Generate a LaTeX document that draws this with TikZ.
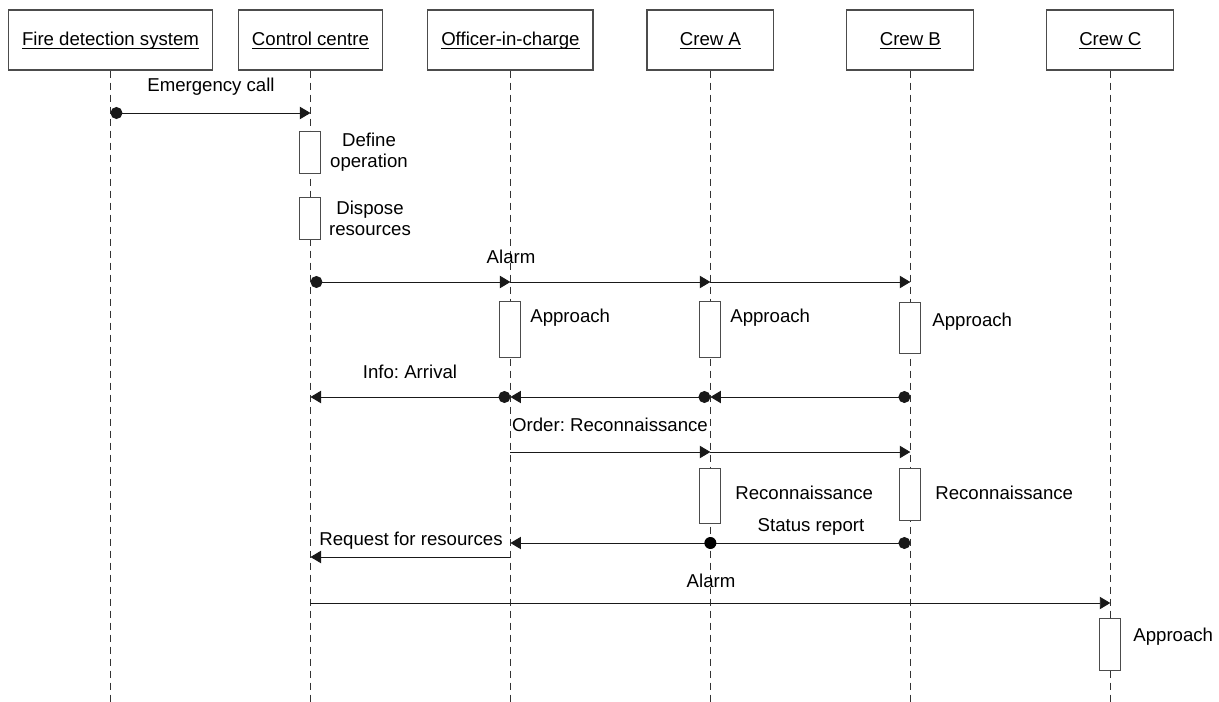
\documentclass[tikz,border=0pt]{standalone}
\usepackage{fontspec}
\setmainfont{Liberation Sans}
\usetikzlibrary{arrows.meta,positioning,calc}
\newcommand{\ulname}[1]{\underline{\smash{#1}}}
\frenchspacing

\begin{document}
\begin{tikzpicture}[x=0.02cm,y=-0.02cm,node distance=4cm,
			font=\fontsize{10.6}{12}\selectfont]
			\tikzstyle{obj}=[draw=black!70,line width=0.7pt,rectangle,minimum width=2.54cm,minimum height=1.2cm,inner xsep=0.27cm,text height=8pt,text depth=1.8pt]
			\tikzstyle{life}=[draw=black!80,line width=0.55pt,dash pattern=on 0.14cm off 0.1cm]
			\tikzstyle{actbox}=[draw=black!70,fill=white,line width=0.55pt,minimum width=0.42cm,inner sep=0pt]
			\tikzstyle{msg}=[draw=black!90,line width=0.55pt,-{Triangle[length=6pt,width=7pt]}]
			\tikzstyle{dmsg}=[msg,{Circle[length=6.8pt]}-{Triangle[length=6pt,width=7pt]}]
			\tikzstyle{mdot}=[circle,fill=black,inner sep=0pt,minimum size=0.24cm]
			\tikzstyle{lbl}=[inner sep=0pt]
			
			\useasboundingbox (0,0) rectangle (1219,702);
			
			\node[obj]    (FDS) at (110.5,40)      {\ulname{Fire detection system}};
			\node[obj]    (CC)  [right of = FDS]   {\ulname{Control centre}};
			\node[obj]    (OIC) [right of = CC]    {\ulname{Officer-in-charge}};
			\node[obj]    (CA)  [right of = OIC]   {\ulname{Crew A}};
			\node[obj]    (CB)  [right of = CA]    {\ulname{Crew B}};
			\node[obj]    (CCC) [right of = CB]    {\ulname{Crew C}};
			
			% time levels
			\coordinate (bot)     at (0,702);
			\coordinate (tcall)   at (0,113);
			\coordinate (talarm)  at (0,282);
			\coordinate (tarr)    at (0,397);
			\coordinate (tord)    at (0,452);
			\coordinate (tstat)   at (0,543);
			\coordinate (treq)    at (0,557);
			\coordinate (talarmc) at (0,603);
			
			\foreach \n in {FDS,CC,OIC,CA,CB,CCC}
				\draw[life] (\n.south) -- (\n |- bot);
			
			\node[actbox, minimum height=0.84cm] (defop)  at (CC |- 0,152)   {};
			\node[actbox, minimum height=0.84cm] (dispo)  at (CC |- 0,218)   {};
			\node[actbox, minimum height=1.12cm] (appO)   at (OIC |- 0,329)  {};
			\node[actbox, minimum height=1.12cm] (appA)   at (CA |- 0,329)   {};
			\node[actbox, minimum height=1.02cm] (appB)   at (CB |- 0,327.5) {};
			\node[actbox, minimum height=1.1cm]  (recA)   at (CA |- 0,495.5) {};
			\node[actbox, minimum height=1.04cm] (recB)   at (CB |- 0,494)   {};
			\node[actbox, minimum height=1.04cm] (appC)   at (CCC |- 0,644)  {};
			
			\path
			(FDS |- tcall) edge[dmsg] (CC |- tcall)
			(CC |- talarm) edge[dmsg] (OIC |- talarm)
			(OIC |- talarm) edge[msg] (CA |- talarm)
			(CA |- talarm) edge[msg] (CB |- talarm)
			(CB |- tarr) edge[dmsg] (CA |- tarr)
			(CA |- tarr) edge[dmsg] (OIC |- tarr)
			(OIC |- tarr) edge[dmsg] (CC |- tarr)
			(OIC |- tord) edge[msg] (CA |- tord)
			(CA |- tord) edge[msg] (CB |- tord)
			(CB |- tstat) edge[dmsg] (OIC |- tstat)
			(OIC |- treq) edge[msg] (CC |- treq)
			(CC |- talarmc) edge[msg] (CCC |- talarmc);
			\node[mdot] (sdot) at (CA |- tstat) {};
			
			\node[lbl] (lcall) at (211,87) {Emergency call};
			\node[lbl, align=center] (ldef) at (369,152) {Define\\operation};
			\node[lbl, align=center] (ldis) at (370,218) {Dispose\\resources};
			\node[lbl] (lalarm) at (511,257) {Alarm};
			\node[lbl, anchor=west] (lappO) at (530,318) {Approach};
			\node[lbl, anchor=west] (lappA) at (730,318) {Approach};
			\node[lbl, anchor=west] (lappB) at (932,322) {Approach};
			\node[lbl] (larr) at (410,372) {Info: Arrival};
			\node[lbl] (lord) at (610,425) {Order: Reconnaissance};
			\node[lbl, anchor=west] (lrecA) at (735,493) {Reconnaissance};
			\node[lbl, anchor=west] (lrecB) at (935,493) {Reconnaissance};
			\node[lbl] (lstat) at (811,527) {Status report};
			\node[lbl] (lreq) at (411,541) {Request for resources};
			\node[lbl] (lalarmc) at (711,581) {Alarm};
			\node[lbl, anchor=west] (lappC) at (1133,637) {Approach};
\end{tikzpicture}
\end{document}
